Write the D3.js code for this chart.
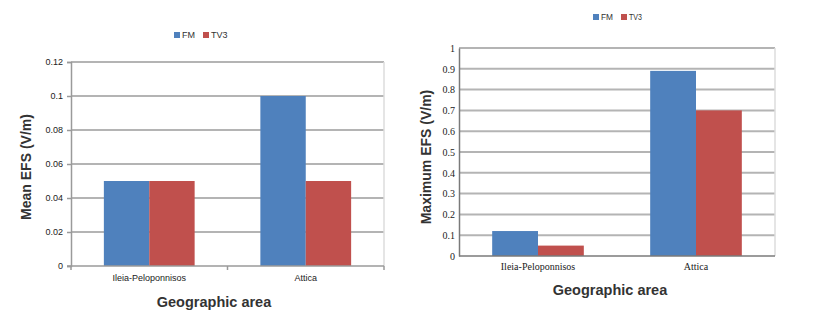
<!DOCTYPE html>
<html>
<head>
<meta charset="utf-8">
<script src="https://cdn.jsdelivr.net/npm/d3@7"></script>
<style>
  body { margin: 0; background: #fff; }
</style>
</head>
<body>
<script>
// data
var areas = ["Ileia-Peloponnisos", "Attica"];
var seriesNames = ["FM", "TV3"];
var colors = ["#4f81bd", "#c0504d"];
var meanFM = [0.05, 0.1];
var meanTV3 = [0.05, 0.05];
var maxFM = [0.12, 0.89];
var maxTV3 = [0.05, 0.7];
var meanTicks = [0, 0.02, 0.04, 0.06, 0.08, 0.1, 0.12];
var maxTicks = [0, 0.1, 0.2, 0.3, 0.4, 0.5, 0.6, 0.7, 0.8, 0.9, 1];

var svg = d3.select("body").append("svg")
    .attr("width", 833)
    .attr("height", 330);

function drawChart(opt) {
  var g = svg.append("g");
  var x0 = d3.scaleBand().domain(areas).range([opt.left, opt.right]).paddingInner(0.42).paddingOuter(0.21);
  var x1 = d3.scaleBand().domain(seriesNames).range([0, x0.bandwidth()]);
  var y = d3.scaleLinear().domain(opt.domain).range([opt.bottom, opt.top]);

  // gridlines
  g.selectAll(".grid")
    .data(opt.ticks.slice(1))
    .enter().append("line")
      .attr("x1", opt.left)
      .attr("x2", opt.right)
      .attr("y1", function(d) { return y(d); })
      .attr("y2", function(d) { return y(d); })
      .style("stroke", "#b4b4b4")
      .style("stroke-width", 2);

  // right border
  g.append("line")
      .attr("x1", opt.right).attr("x2", opt.right)
      .attr("y1", opt.top).attr("y2", opt.bottom)
      .style("stroke", "#dcdcdc")
      .style("stroke-width", 1.5);

  // bars
  var series = [opt.fm, opt.tv3];
  series.forEach(function(vals, si) {
    g.selectAll(".bar" + si)
      .data(vals)
      .enter().append("rect")
        .attr("x", function(d, i) { return x0(areas[i]) + x1(seriesNames[si]); })
        .attr("y", function(d) { return y(d); })
        .attr("width", x1.bandwidth())
        .attr("height", function(d) { return y(0) - y(d); })
        .style("fill", colors[si]);
  });

  // y axis
  var yAxis = d3.axisLeft(y).tickValues(opt.ticks).tickSize(opt.tickSize).tickPadding(4)
      .tickFormat(function(d) { return d3.format("~g")(d); });
  var ya = g.append("g")
      .attr("transform", "translate(" + opt.left + ",0)")
      .call(yAxis);
  ya.select(".domain").style("stroke", opt.axisColor).style("stroke-width", 1.5);
  ya.selectAll(".tick line").style("stroke", opt.axisColor).style("stroke-width", 1.5);
  ya.selectAll("text")
      .style("font-family", opt.tickFont)
      .style("font-size", opt.tickFontSize)
      .style("fill", "#222");

  // x axis
  var xa = g.append("g")
      .attr("transform", "translate(0," + opt.bottom + ")")
      .call(d3.axisBottom(x0).tickSize(0).tickPadding(opt.xPad));
  xa.select(".domain").remove();
  xa.selectAll("text")
      .style("font-family", opt.tickFont)
      .style("font-size", opt.tickFontSize)
      .style("fill", "#222");
  g.append("line")
      .attr("x1", opt.left - (opt.tickSize ? 4 : 0)).attr("x2", opt.right)
      .attr("y1", opt.bottom).attr("y2", opt.bottom)
      .style("stroke", opt.axisColor)
      .style("stroke-width", 1.5);
  if (opt.catTicks) {
    [opt.left, (opt.left + opt.right) / 2, opt.right].forEach(function(xx) {
      g.append("line")
        .attr("x1", xx).attr("x2", xx)
        .attr("y1", opt.bottom).attr("y2", opt.bottom + 4)
        .style("stroke", opt.axisColor)
        .style("stroke-width", 1.5);
    });
  }

  // axis titles
  g.append("text")
      .attr("x", opt.xTitleX)
      .attr("y", opt.xTitleY)
      .style("text-anchor", "middle")
      .style("font-family", "'Liberation Sans', Arial, sans-serif")
      .style("font-weight", "bold")
      .style("font-size", "14.5px")
      .style("fill", "#333")
      .text("Geographic area");
  g.append("text")
      .attr("transform", "translate(" + opt.yTitleX + "," + opt.yTitleY + ") rotate(-90)")
      .style("text-anchor", "middle")
      .style("font-family", "'Liberation Sans', Arial, sans-serif")
      .style("font-weight", "bold")
      .style("font-size", "14px")
      .style("fill", "#333")
      .text(opt.yTitle);

  // legend
  seriesNames.forEach(function(s, i) {
    g.append("rect")
        .attr("x", opt.legendX[i])
        .attr("y", opt.legendY - 6)
        .attr("width", 6)
        .attr("height", 6)
        .style("fill", colors[i]);
    var t = g.append("text")
        .attr("x", opt.legendX[i] + 8)
        .attr("y", opt.legendY)
        .style("font-family", "'Liberation Sans', Arial, sans-serif")
        .style("font-size", "9px")
        .style("fill", "#333")
        .text(s);
    if (opt.legendSquash) {
      t.attr("textLength", opt.legendSquash[i]).attr("lengthAdjust", "spacingAndGlyphs");
    }
  });
}

drawChart({
  left: 71, right: 384, top: 62, bottom: 266,
  domain: [0, 0.12], ticks: meanTicks,
  fm: meanFM, tv3: meanTV3,
  tickSize: 4, axisColor: "#9a9a9a", catTicks: true,
  tickFont: "'Liberation Sans', Arial, sans-serif", tickFontSize: "9px", xPad: 9,
  xTitleX: 214, xTitleY: 307, yTitleX: 31, yTitleY: 167, yTitle: "Mean EFS (V/m)",
  legendX: [174, 203], legendY: 38
});

drawChart({
  left: 459, right: 775, top: 48, bottom: 256,
  domain: [0, 1], ticks: maxTicks,
  fm: maxFM, tv3: maxTV3,
  tickSize: 0, axisColor: "#7a7a7a", catTicks: false,
  tickFont: "'Liberation Serif', 'Times New Roman', serif", tickFontSize: "10px", xPad: 7,
  xTitleX: 610, xTitleY: 295, yTitleX: 431, yTitleY: 157, yTitle: "Maximum EFS (V/m)",
  legendX: [593, 621], legendY: 20, legendSquash: [12, 13]
});
</script>
</body>
</html>
